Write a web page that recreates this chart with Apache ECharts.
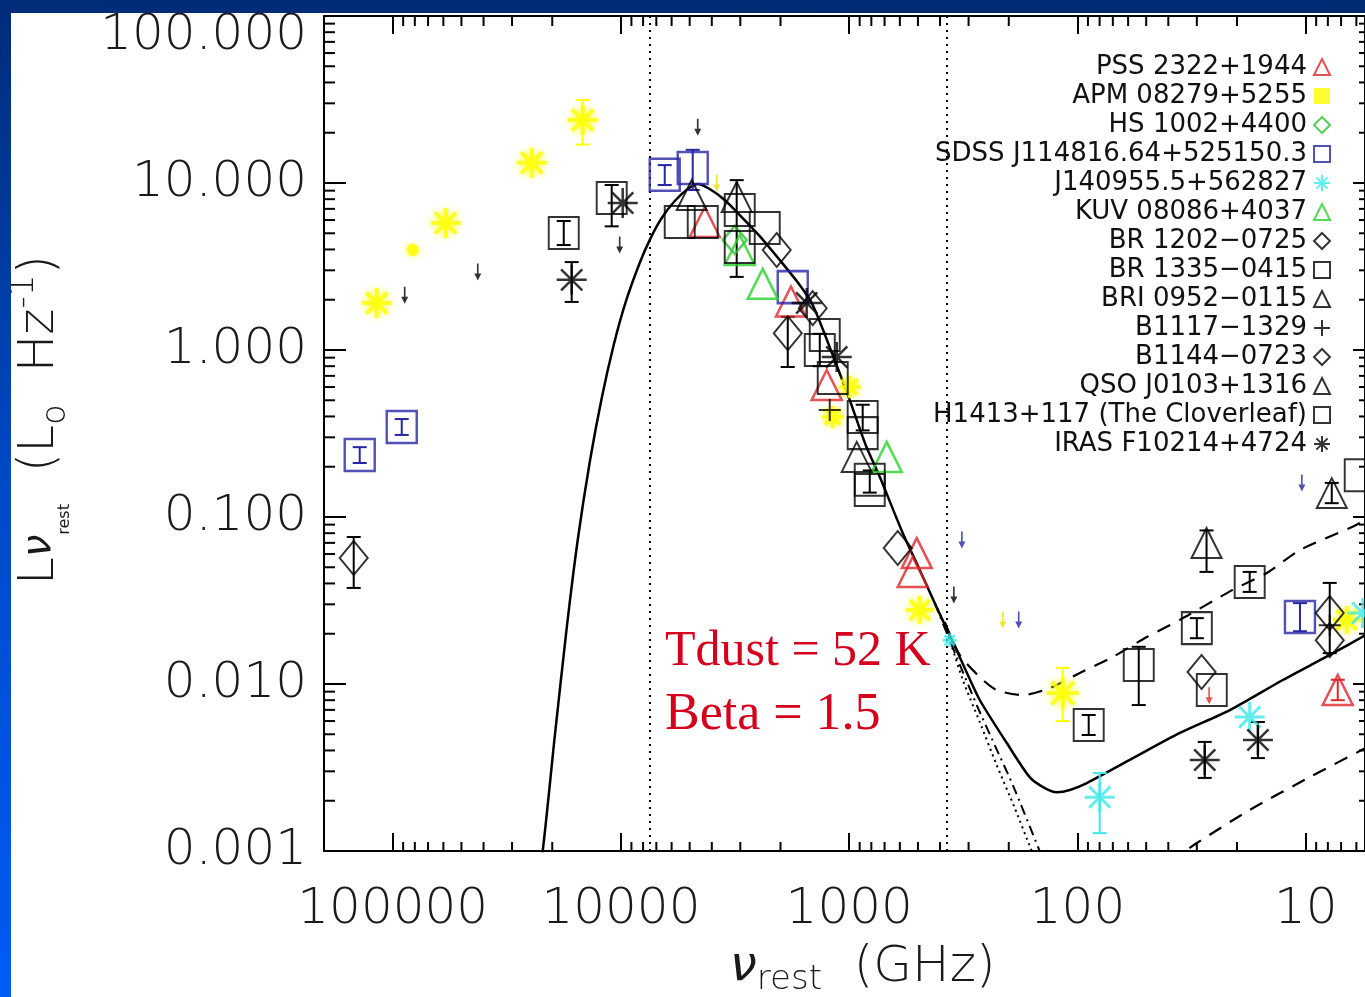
<!DOCTYPE html>
<html>
<head>
<meta charset="utf-8">
<script src="https://cdn.jsdelivr.net/npm/echarts@6/dist/echarts.min.js"></script>
<style>
  html, body { margin: 0; padding: 0; background: #ffffff; }
  #chart { width: 1365px; height: 997px; }
</style>
</head>
<body>
<div id="chart"></div>
<script>
// ---- axis ticks -------------------------------------------------------
const xTickValues = [10, 100, 1000, 10000, 100000];
const xTickLabels = ['10', '100', '1000', '10000', '100000'];
const yTickValues = [0.001, 0.01, 0.1, 1, 10, 100];
const yTickLabels = ['0.001', '0.010', '0.100', '1.000', '10.000', '100.000'];
const minorMultipliers = [2, 3, 4, 5, 6, 7, 8, 9];
const xRange = [5.5, 200000];
const yRange = [0.001, 100];

// ---- sources (legend order) -------------------------------------------
const sourceNames = [
  'PSS 2322+1944', 'APM 08279+5255', 'HS 1002+4400', 'SDSS J114816.64+525150.3',
  'J140955.5+562827', 'KUV 08086+4037', 'BR 1202\u22120725', 'BR 1335\u22120415',
  'BRI 0952\u22120115', 'B1117\u22121329', 'B1144\u22120723', 'QSO J0103+1316',
  'H1413+117 (The Cloverleaf)', 'IRAS F10214+4724'
];

// photometry: [rest frequency GHz, L_nu (Lsun/Hz), optional marker size]
const pssData    = [[4295, 5.84], [1800, 1.95], [1255, 0.617], [506, 0.0608], [527, 0.0469], [7.24, 0.0092]];
const apmData    = [[14710, 23.8], [24600, 13.2], [58600, 5.76], [81700, 3.97, 12], [117500, 1.91],
                    [995, 0.60, 22], [1181, 0.397, 22], [491, 0.0277, 28], [116, 0.00883, 32], [6.61, 0.0242, 28]];
const hsData     = [[3175, 4.56]];
const sdssData   = [[139500, 0.235], [91300, 0.346], [6431, 11.2], [4849, 12.3], [1768, 2.38], [10.6, 0.0252]];
const j1409Data  = [[79.9, 0.0021], [17.6, 0.00634], [5.63, 0.0266], [363, 0.0183, 14]];
const kuvData    = [[2393, 2.49], [685, 0.229], [3018, 3.97]];
const br1202Data = [[148200, 0.0568], [2078, 3.97], [1445, 1.78], [1859, 1.26], [613, 0.0652]];
const br1335Data = [[17810, 5.02], [5528, 5.84], [4383, 5.84], [2345, 5.38], [53.9, 0.0130], [30.0, 0.0216]];
const bri0952Data = [[4898, 8.47], [3112, 8.24], [927, 0.229], [7.69, 0.139]];
const b1117Data  = [[1217, 0.437], [7.85, 0.0225]];
const b1144Data  = [[28.6, 0.0118], [7.85, 0.0266], [7.85, 0.0183]];
const qsoData    = [[27.2, 0.0699]];
const h1413Data  = [[10980, 8.13], [3018, 6.89], [3018, 4.14], [1346, 1.0], [1280, 1.23], [1181, 0.679],
                    [873, 0.397], [873, 0.318], [813, 0.167], [813, 0.145], [89.3, 0.00568],
                    [17.6, 0.0408], [25.8, 0.0092], [5.80, 0.178]];
const irasData   = [[16440, 2.63], [9825, 7.59], [1536, 1.91], [1134, 0.908], [27.7, 0.00351], [16.2, 0.00462]];

// upper limits
const blackLimits  = [[88600, 2.13], [42400, 2.93], [10130, 4.25], [4610, 21.6], [348, 0.0341]];
const yellowLimits = [[3806, 10.0], [212.5, 0.0242]];
const blueLimits   = [[321, 0.0728], [180.9, 0.0242], [10.4, 0.160]];
const redLimits    = [[26.5, 0.0085]];

// error bars: [nu, low, high]
const blackErrors = [
  [148200, 0.0376, 0.0759], [17810, 4.25, 5.92], [16440, 1.94, 3.36], [10980, 5.5, 9.73],
  [3112, 2.74, 10.4], [1859, 0.791, 1.58], [1346, 0.80, 1.25], [873, 0.33, 0.47], [813, 0.14, 0.19],
  [53.9, 0.00748, 0.0167], [89.3, 0.00495, 0.00652], [30.0, 0.0188, 0.0248], [17.6, 0.0356, 0.0469],
  [27.2, 0.0469, 0.0831], [7.69, 0.121, 0.160], [16.2, 0.0036, 0.00592], [27.7, 0.00274, 0.0045],
  [7.85, 0.0153, 0.0403]
];
const blueErrors   = [[139500, 0.2105, 0.262], [91300, 0.31, 0.386], [6431, 9.73, 12.8], [4849, 9.08, 15.8], [10.6, 0.0207, 0.0305]];
const yellowErrors = [[14710, 17.0, 31.4], [116, 0.0060, 0.0125]];
const cyanErrors   = [[79.9, 0.00128, 0.00293]];
const redErrors    = [[7.24, 0.0080, 0.0106]];

// model SED curves: [nu, L_nu]
const totalModel = [
  [22700, 0.00088], [22020, 0.00100], [19510, 0.00482], [17290, 0.0216], [15470, 0.0728], [13700, 0.2134],
  [12140, 0.516], [10760, 1.071], [9532, 1.94], [8278, 3.32], [7407, 4.69], [6630, 6.17], [5814, 7.80],
  [5100, 9.21], [4610, 9.86], [4086, 9.21], [3511, 7.91], [3018, 6.43], [2467, 4.81], [2016, 3.46], [1648, 2.45],
  [1445, 1.86], [1181, 0.933], [995, 0.502], [847, 0.270], [735, 0.174], [583, 0.0802], [491, 0.0482],
  [422, 0.0305], [363, 0.0196], [312, 0.01247], [268, 0.00802], [204, 0.00443], [162, 0.00277],
  [139, 0.00238], [123, 0.00225], [108, 0.00232], [91, 0.00255], [59, 0.00351], [35.6, 0.00509],
  [21.5, 0.00698], [12.6, 0.01057], [7.85, 0.01493], [5.46, 0.01965]
];
const dustOnly = [[422, 0.0305], [363, 0.0183], [276.3, 0.00748], [230.5, 0.00431], [192.2, 0.00249], [146.4, 0.00100], [135, 0.000769]];
const dustAlt  = [[422, 0.0305], [381.6, 0.02256], [318, 0.01057], [268, 0.00592], [225.9, 0.00327], [188.3, 0.00181], [158.7, 0.00100], [146.4, 0.000769]];
const radioHigh = [[381.6, 0.0235], [328, 0.01493], [268, 0.01101], [225.9, 0.0092], [173.8, 0.00859], [132.3, 0.00946],
                   [97.7, 0.01164], [70.1, 0.01452], [49.7, 0.0191], [35.6, 0.0242], [20.9, 0.0366], [14.8, 0.0462],
                   [10.6, 0.0634], [6.41, 0.0859], [5.46, 0.096]];
const radioLow  = [[39.4, 0.000859], [30.0, 0.001116], [17.6, 0.00176], [9.6, 0.00277], [5.46, 0.00414]];
const bandEdges = [7500, 375];

// ---- styling -----------------------------------------------------------
const FONT = '"DejaVu Sans", "Noto Sans", sans-serif';
const RED = '#e0262c', YELLOW = '#ffff00', GREEN_D = '#2fbf2f', BLUE = '#2626a6',
      CYAN = '#3ee8e8', GREEN_T = '#29d229', BLACK = '#000000';
const INK = '#1a1a1a';
const ASTERISK = 'path://M0,-10L0,10M-10,0L10,0M-7.07,-7.07L7.07,7.07M-7.07,7.07L7.07,-7.07';
const PLUS = 'path://M0,-10L0,10M-10,0L10,0';
const ARROW = 'path://M-0.7,0L0.7,0L0.7,10L3,10L0,17L-3,10L-0.7,10Z';

function hollow(color, width) {
  return { color: 'rgba(0,0,0,0)', borderColor: color, borderWidth: width || 2 };
}

function pointSeries(name, data, symbol, size, style) {
  return {
    name: name, type: 'scatter', data: data, symbol: symbol,
    symbolSize: function (v) { return v.length > 2 ? v[2] : size; },
    itemStyle: style, z: 5, silent: true, animation: false
  };
}

function limitSeries(name, data, color) {
  return {
    name: name, type: 'scatter', data: data, symbol: ARROW, symbolSize: [7, 17],
    itemStyle: { color: color }, z: 6, silent: true, animation: false
  };
}

function errorSeries(name, data, color) {
  return {
    name: name, type: 'custom', data: data, z: 4, silent: true, animation: false,
    encode: { x: 0, y: [1, 2] },
    renderItem: function (params, api) {
      const nu = api.value(0);
      const lo = api.coord([nu, api.value(1)]);
      const hi = api.coord([nu, api.value(2)]);
      const w = 7;
      const st = { stroke: color, lineWidth: 2 };
      return {
        type: 'group',
        children: [
          { type: 'line', shape: { x1: lo[0], y1: lo[1], x2: hi[0], y2: hi[1] }, style: st },
          { type: 'line', shape: { x1: lo[0] - w, y1: lo[1], x2: lo[0] + w, y2: lo[1] }, style: st },
          { type: 'line', shape: { x1: hi[0] - w, y1: hi[1], x2: hi[0] + w, y2: hi[1] }, style: st }
        ]
      };
    }
  };
}

function curveSeries(name, data, type, width) {
  return {
    name: name, type: 'line', data: data, showSymbol: false, symbol: 'none', smooth: 0.25,
    lineStyle: { color: BLACK, width: width || 2.5, type: type }, z: 3, silent: true,
    animation: false, clip: true
  };
}

// decade sub-ticks (2..9) for the log axes
function minorValues(range) {
  const out = [];
  const d0 = Math.floor(Math.log10(range[0])), d1 = Math.ceil(Math.log10(range[1]));
  for (let d = d0; d <= d1; d++) {
    minorMultipliers.forEach(function (k) {
      const v = k * Math.pow(10, d);
      if (v > range[0] && v < range[1]) out.push(v);
    });
  }
  return out;
}
const xMinor = minorValues(xRange).map(function (v) { return [v, 1]; });
const yMinor = minorValues(yRange).map(function (v) { return [10, v]; });

const tickStyle = { stroke: BLACK, lineWidth: 2 };
const xMinorSeries = {
  type: 'custom', data: xMinor, silent: true, animation: false, z: 2,
  renderItem: function (params, api) {
    const cs = params.coordSys;
    const px = api.coord([api.value(0), 1])[0];
    return { type: 'group', children: [
      { type: 'line', shape: { x1: px, y1: cs.y + cs.height, x2: px, y2: cs.y + cs.height - 9 }, style: tickStyle },
      { type: 'line', shape: { x1: px, y1: cs.y, x2: px, y2: cs.y + 10 }, style: tickStyle }
    ] };
  }
};
const yMinorSeries = {
  type: 'custom', data: yMinor, silent: true, animation: false, z: 2,
  renderItem: function (params, api) {
    const cs = params.coordSys;
    const py = api.coord([10, api.value(1)])[1];
    return { type: 'group', children: [
      { type: 'line', shape: { x1: cs.x, y1: py, x2: cs.x + 11, y2: py }, style: tickStyle },
      { type: 'line', shape: { x1: cs.x + cs.width, y1: py, x2: cs.x + cs.width - 6, y2: py }, style: tickStyle }
    ] };
  }
};

function tickText(values, labels, v) {
  const lv = Math.log10(v);
  for (let i = 0; i < values.length; i++) {
    if (Math.abs(Math.log10(values[i]) - lv) < 1e-6) return labels[i];
  }
  return '';
}

const labelStyle = { fontSize: 50, fontFamily: FONT, fontWeight: 200, color: INK };
const axisLineStyle = { show: true, onZero: false, lineStyle: { color: BLACK, width: 2 } };

const chart = echarts.init(document.getElementById('chart'));

const option = {
  animation: false,
  backgroundColor: '#ffffff',
  grid: { left: 324, right: 0, top: 16, bottom: 146, containLabel: false },
  xAxis: [
    {
      type: 'log', inverse: true, min: xRange[0], max: xRange[1], position: 'bottom',
      axisLine: axisLineStyle,
      axisTick: { inside: true, length: 18, lineStyle: { color: BLACK, width: 2 } },
      splitLine: { show: false },
      axisLabel: Object.assign({ margin: 34, showMinLabel: false, showMaxLabel: false,
        formatter: function (v) { return tickText(xTickValues, xTickLabels, v); } }, labelStyle)
    },
    {
      type: 'log', inverse: true, min: xRange[0], max: xRange[1], position: 'top',
      axisLine: axisLineStyle,
      axisTick: { inside: true, length: 18, lineStyle: { color: BLACK, width: 2 } },
      splitLine: { show: false }, axisLabel: { show: false }
    }
  ],
  yAxis: [
    {
      type: 'log', min: yRange[0], max: yRange[1], position: 'left',
      axisLine: axisLineStyle,
      axisTick: { inside: true, length: 22, lineStyle: { color: BLACK, width: 2 } },
      splitLine: { show: false },
      axisLabel: Object.assign({ margin: 17,
        formatter: function (v) {
          const t = tickText(yTickValues, yTickLabels, v);
          return t === yTickLabels[yTickLabels.length - 1] ? '{top|' + t + '}' : t;
        },
        rich: { top: { fontSize: 50, fontFamily: FONT, fontWeight: 200, color: INK, padding: [40, 0, 0, 0] } }
      }, labelStyle)
    },
    {
      type: 'log', min: yRange[0], max: yRange[1], position: 'right',
      axisLine: axisLineStyle,
      axisTick: { inside: true, length: 12, lineStyle: { color: BLACK, width: 2 } },
      splitLine: { show: false }, axisLabel: { show: false }
    }
  ],
  legend: {
    orient: 'vertical', right: 29, top: 49, align: 'right',
    itemWidth: 16, itemHeight: 16, itemGap: 3, selectedMode: false,
    textStyle: { fontSize: 26, fontFamily: FONT, color: '#111111', padding: [0, 2, 0, 0] },
    data: sourceNames.map(function (n, i) {
      return i === 1 ? { name: n, icon: 'rect', itemStyle: { color: YELLOW, borderColor: YELLOW, borderWidth: 0 } } : { name: n };
    })
  },
  series: [
    xMinorSeries, yMinorSeries,
    Object.assign(curveSeries('Total model', totalModel, 'solid', 2.5), {
      markLine: {
        silent: true, symbol: ['none', 'none'], label: { show: false }, animation: false,
        lineStyle: { type: [2, 5], color: BLACK, width: 2 },
        data: bandEdges.map(function (v) { return { xAxis: v }; })
      }
    }),
    curveSeries('Dust only', dustOnly, [10, 5, 2, 5], 2),
    curveSeries('Dust (alt)', dustAlt, [2, 4], 2),
    curveSeries('Radio high', radioHigh, [14, 10], 2.2),
    curveSeries('Radio low', radioLow, [14, 10], 2.2),

    errorSeries('err black', blackErrors, BLACK),
    errorSeries('err blue', blueErrors, BLUE),
    errorSeries('err yellow', yellowErrors, YELLOW),
    errorSeries('err cyan', cyanErrors, CYAN),
    errorSeries('err red', redErrors, RED),

    pointSeries(sourceNames[0], pssData, 'triangle', 30, hollow(RED, 2.5)),
    Object.assign(pointSeries(sourceNames[1], apmData, ASTERISK, 30,
      { color: 'rgba(0,0,0,0)', borderColor: YELLOW, borderWidth: 4, shadowBlur: 6, shadowColor: 'rgba(255,255,0,0.9)' }), { z: 4 }),
    pointSeries(sourceNames[2], hsData, 'diamond', [24, 28], hollow(GREEN_D, 2.5)),
    pointSeries(sourceNames[3], sdssData, 'rect', [30, 32], hollow(BLUE, 2.5)),
    pointSeries(sourceNames[4], j1409Data, ASTERISK, 30, hollow(CYAN, 3)),
    pointSeries(sourceNames[5], kuvData, 'triangle', 30, hollow(GREEN_T, 2.5)),
    pointSeries(sourceNames[6], br1202Data, 'diamond', [28, 34], hollow(BLACK)),
    pointSeries(sourceNames[7], br1335Data, 'rect', [30, 32], hollow(BLACK)),
    pointSeries(sourceNames[8], bri0952Data, 'triangle', 30, hollow(BLACK)),
    pointSeries(sourceNames[9], b1117Data, PLUS, 22, hollow(BLACK)),
    pointSeries(sourceNames[10], b1144Data, 'diamond', [28, 34], hollow(BLACK)),
    pointSeries(sourceNames[11], qsoData, 'triangle', 30, hollow(BLACK)),
    pointSeries(sourceNames[12], h1413Data, 'rect', [30, 32], hollow(BLACK)),
    pointSeries(sourceNames[13], irasData, ASTERISK, 30, hollow(BLACK, 2.5)),

    limitSeries('limits black', blackLimits, BLACK),
    limitSeries('limits yellow', yellowLimits, '#e8e000'),
    limitSeries('limits blue', blueLimits, BLUE),
    limitSeries('limits red', redLimits, RED)
  ],
  graphic: [
    // slide frame
    { type: 'rect', z: 100, silent: true, shape: { x: 0, y: 0, width: 1365, height: 13 },
      style: { fill: new echarts.graphic.LinearGradient(0, 0, 1, 0, [{ offset: 0, color: '#002c78' }, { offset: 1, color: '#002a72' }]) } },
    { type: 'rect', z: 100, silent: true, shape: { x: 0, y: 0, width: 11, height: 997 },
      style: { fill: new echarts.graphic.LinearGradient(0, 0, 0, 1, [{ offset: 0, color: '#002c78' }, { offset: 0.5, color: '#0049c8' }, { offset: 1, color: '#005cf6' }]) } },
    // fit parameters
    { type: 'text', z: 50, silent: true, x: 665, y: 652,
      style: { text: 'Tdust = 52 K', fontSize: 50, fontFamily: '"Liberation Serif", "DejaVu Serif", serif', fill: '#d4001c', align: 'left', verticalAlign: 'middle' } },
    { type: 'text', z: 50, silent: true, x: 665, y: 715,
      style: { text: 'Beta = 1.5', fontSize: 52, fontFamily: '"Liberation Serif", "DejaVu Serif", serif', fill: '#d4001c', align: 'left', verticalAlign: 'middle' } },
    // x-axis title
    { type: 'text', z: 50, silent: true, x: 730, y: 968,
      style: {
        text: '{nu|\u03bd}{sub|rest}{t|  (GHz)}', align: 'left', verticalAlign: 'middle',
        rich: {
          nu: { fontSize: 48, fontStyle: 'italic', fontFamily: FONT, fontWeight: 200, fill: INK, lineHeight: 58 },
          sub: { fontSize: 34, fontFamily: FONT, fontWeight: 200, fill: INK, lineHeight: 30, verticalAlign: 'bottom' },
          t: { fontSize: 50, fontFamily: FONT, fontWeight: 200, fill: INK, lineHeight: 58 }
        }
      } },
    // y-axis title
    { type: 'text', z: 50, silent: true, x: 40, y: 420, rotation: Math.PI / 2,
      style: {
        text: '{m|L}{nu|\u03bd}{s1|rest}{m|  (L}{s2|o}{m|  Hz}{sup|-1}{m|)}', align: 'center', verticalAlign: 'middle',
        rich: {
          m: { fontSize: 50, fontFamily: FONT, fontWeight: 200, fill: INK, lineHeight: 66 },
          nu: { fontSize: 40, fontStyle: 'italic', fontFamily: FONT, fontWeight: 200, fill: INK, lineHeight: 66 },
          s1: { fontSize: 16, fontFamily: FONT, fill: INK, lineHeight: 4, verticalAlign: 'bottom' },
          s2: { fontSize: 34, fontFamily: FONT, fontWeight: 200, fill: INK, lineHeight: 24, verticalAlign: 'bottom' },
          sup: { fontSize: 34, fontFamily: FONT, fontWeight: 200, fill: INK, lineHeight: 44, verticalAlign: 'top' }
        }
      } }
  ]
};

chart.setOption(option);
</script>
</body>
</html>
